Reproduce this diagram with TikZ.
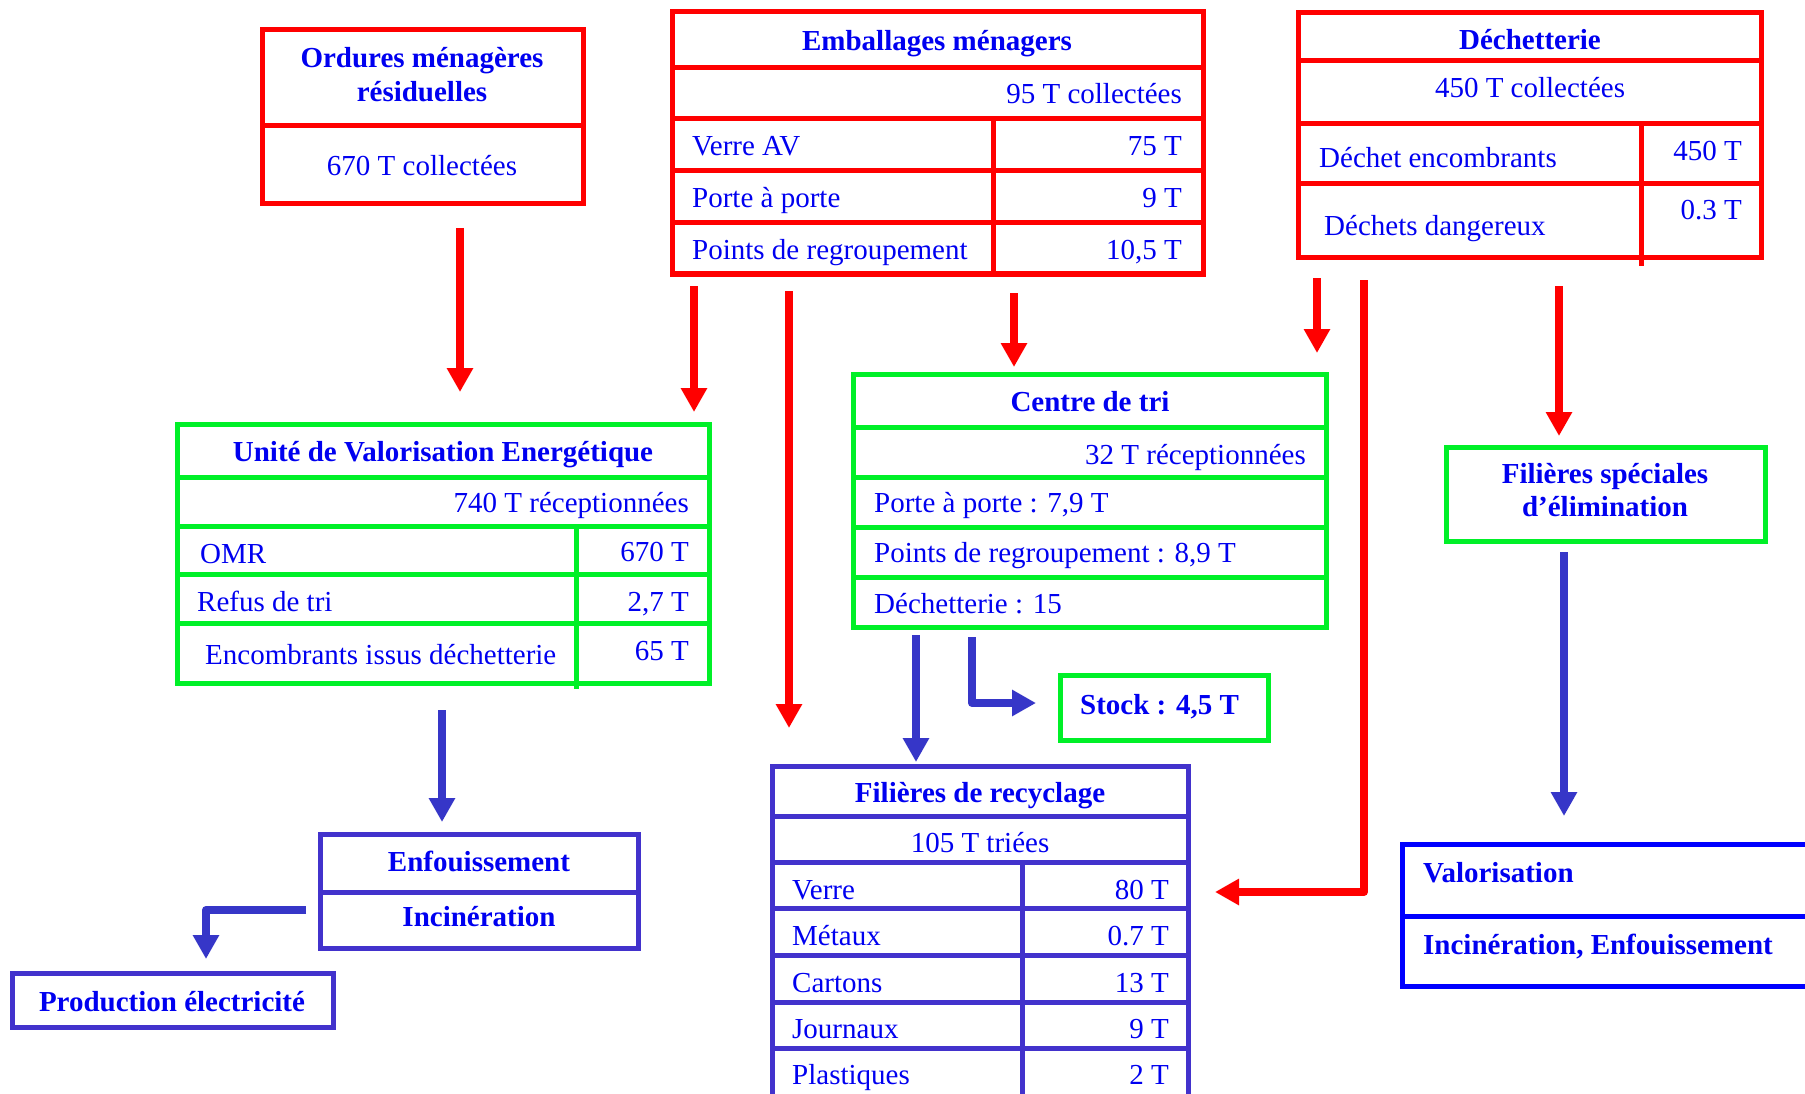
\documentclass[tikz,border=0pt]{standalone}
\usepackage{fontspec}
\setmainfont{Liberation Serif}
\usetikzlibrary{arrows.meta,fit}
\definecolor{cred}{RGB}{255,0,0}
\definecolor{cgreen}{RGB}{0,240,40}
\definecolor{cbox}{RGB}{66,50,204}
\definecolor{carrow}{RGB}{54,54,200}
\definecolor{ctext}{RGB}{0,0,240}
\definecolor{cvalo}{RGB}{0,0,255}
\begin{document}
\begin{tikzpicture}[x=1pt,y=-1pt,
  frame/.style={draw, line width=5pt, inner sep=0pt, rectangle},
  redbox/.style={frame, draw=cred},
  greenbox/.style={frame, draw=cgreen},
  bluebox/.style={frame, draw=cbox},
  valobox/.style={frame, draw=cvalo},
  rule/.style={line width=5pt},
  txt/.style={text=ctext, font=\fontsize{29}{34}\selectfont, inner sep=0pt, anchor=base},
  btxt/.style={txt, font=\fontsize{29}{34}\selectfont\bfseries},
  lt/.style={anchor=base west},
  rt/.style={anchor=base east},
  redarrow/.style={draw=cred, line width=8pt, line join=round, -{Triangle[width=25pt,length=24pt]}},
  bluearrow/.style={draw=carrow, line width=8pt, line join=round, -{Triangle[width=25pt,length=24pt]}}]
\path[use as bounding box, fill=white] (0,0) rectangle (1805,1094);
\clip (0,0) rectangle (1805,1094);

% ---------- Ordures ménagères résiduelles ----------
\node[redbox, fit={(262,30)(583,204)}] (orm) {};
\draw[rule, cred] (262,126) -- (583,126);
\node[btxt] (ormt1) at (422,68) {Ordures ménagères};
\node[btxt] (ormt2) at (422,102) {résiduelles};
\node[txt] (ormt3) at (422,176) {670 T collectées};

% ---------- Emballages ménagers ----------
\node[redbox, fit={(672,12)(1203,274)}] (emb) {};
\draw[rule, cred] (672,68) -- (1203,68) (672,119) -- (1203,119)
  (672,171) -- (1203,171) (672,223) -- (1203,223) (993,119) -- (993,274);
\node[btxt] (embt) at (937,51) {Emballages ménagers};
\node[txt, rt] (embc) at (1182,104) {95 T collectées};
\node[txt, lt] (emb1) at (692,156) {Verre AV};
\node[txt, rt] (emb1v) at (1182,156) {75 T};
\node[txt, lt] (emb2) at (692,208) {Porte à porte};
\node[txt, rt] (emb2v) at (1182,208) {9 T};
\node[txt, lt] (emb3) at (692,259) {Points de regroupement};
\node[txt, rt] (emb3v) at (1182,259) {10,5 T};

% ---------- Déchetterie ----------
\node[redbox, fit={(1298,13)(1761,258)}] (dech) {};
\draw[rule, cred] (1298,61) -- (1761,61) (1298,124) -- (1761,124)
  (1298,184) -- (1761,184) (1641,124) -- (1641,266);
\node[btxt] (decht) at (1530,50) {Déchetterie};
\node[txt] (dechc) at (1530,98) {450 T collectées};
\node[txt, lt] (dech1) at (1319,168) {Déchet encombrants};
\node[txt, rt] (dech1v) at (1742,161) {450 T};
\node[txt, lt] (dech2) at (1324,236) {Déchets dangereux};
\node[txt, rt] (dech2v) at (1742,220) {0.3 T};

% ---------- Unité de Valorisation Energétique ----------
\node[greenbox, fit={(177,424)(709,683)}] (uve) {};
\draw[rule, cgreen] (177,477) -- (709,477) (177,526) -- (709,526)
  (177,574) -- (709,574) (177,623) -- (709,623) (576,526) -- (576,689);
\node[btxt] (uvet) at (443,461) {Unité de Valorisation Energétique};
\node[txt, rt] (uvec) at (689,512) {740 T réceptionnées};
\node[txt, lt] (uve1) at (200,563) {OMR};
\node[txt, rt] (uve1v) at (689,561) {670 T};
\node[txt, lt] (uve2) at (197,611) {Refus de tri};
\node[txt, rt] (uve2v) at (689,611) {2,7 T};
\node[txt, lt] (uve3) at (205,664) {Encombrants issus déchetterie};
\node[txt, rt] (uve3v) at (689,660) {65 T};

% ---------- Centre de tri ----------
\node[greenbox, fit={(853,374)(1326,627)}] (ctri) {};
\draw[rule, cgreen] (853,427) -- (1326,427) (853,477) -- (1326,477)
  (853,527) -- (1326,527) (853,577) -- (1326,577);
\node[btxt] (ctrit) at (1090,411) {Centre de tri};
\node[txt, rt] (ctric) at (1306,464) {32 T réceptionnées};
\node[txt, lt] (ctri1) at (874,512) {Porte à porte : 7,9 T};
\node[txt, lt] (ctri2) at (874,562) {Points de regroupement : 8,9 T};
\node[txt, lt] (ctri3) at (874,613) {Déchetterie : 15};

% ---------- Stock ----------
\node[greenbox, fit={(1060,675)(1268,740)}] (stock) {};
\node[btxt, lt] (stockt) at (1080,714) {Stock : 4,5 T};

% ---------- Filières spéciales d'élimination ----------
\node[greenbox, fit={(1446,447)(1765,541)}] (fse) {};
\node[btxt] (fset1) at (1605,483) {Filières spéciales};
\node[btxt] (fset2) at (1605,516) {d’élimination};

% ---------- Filières de recyclage ----------
\node[bluebox, fit={(772,766)(1188,1110)}] (recy) {};
\draw[rule, cbox] (772,816) -- (1188,816) (772,862) -- (1188,862)
  (772,908) -- (1188,908) (772,955) -- (1188,955) (772,1002) -- (1188,1002)
  (772,1048) -- (1188,1048) (1022,862) -- (1022,1110);
\node[btxt] (recyt) at (980,802) {Filières de recyclage};
\node[txt] (recyc) at (980,852) {105 T triées};
\node[txt, lt] (recy1) at (792,899) {Verre};
\node[txt, rt] (recy1v) at (1169,899) {80 T};
\node[txt, lt] (recy2) at (792,945) {Métaux};
\node[txt, rt] (recy2v) at (1169,945) {0.7 T};
\node[txt, lt] (recy3) at (792,992) {Cartons};
\node[txt, rt] (recy3v) at (1169,992) {13 T};
\node[txt, lt] (recy4) at (792,1038) {Journaux};
\node[txt, rt] (recy4v) at (1169,1038) {9 T};
\node[txt, lt] (recy5) at (792,1084) {Plastiques};
\node[txt, rt] (recy5v) at (1169,1084) {2 T};

% ---------- Enfouissement / Incinération ----------
\node[bluebox, fit={(320,834)(638,948)}] (enf) {};
\draw[rule, cbox] (320,892) -- (638,892);
\node[btxt] (enft1) at (479,871) {Enfouissement};
\node[btxt] (enft2) at (479,926) {Incinération};

% ---------- Production électricité ----------
\node[bluebox, fit={(12,973)(333,1027)}] (prod) {};
\node[btxt] (prodt) at (172,1011) {Production électricité};

% ---------- Valorisation ----------
\node[valobox, fit={(1402,844)(1840,986)}] (valo) {};
\draw[rule, cvalo] (1402,916) -- (1840,916);
\node[btxt, lt] (valot1) at (1423,882) {Valorisation};
\node[btxt, lt] (valot2) at (1423,954) {Incinération, Enfouissement};

% ---------- connector end points ----------
\coordinate (a1s) at (460,228);  \coordinate (a1e) at (460,392);
\coordinate (a2s) at (694,286);  \coordinate (a2e) at (694,412);
\coordinate (a3s) at (789,291);  \coordinate (a3e) at (789,728);
\coordinate (a4s) at (1014,293); \coordinate (a4e) at (1014,367);
\coordinate (a5s) at (1317,278); \coordinate (a5e) at (1317,353);
\coordinate (a6s) at (1364,280); \coordinate (a6m) at (1364,892); \coordinate (a6e) at (1215,892);
\coordinate (a7s) at (1559,286); \coordinate (a7e) at (1559,436);
\coordinate (b1s) at (442,710);  \coordinate (b1e) at (442,822);
\coordinate (b2s) at (306,910);  \coordinate (b2m) at (206,910); \coordinate (b2e) at (206,959);
\coordinate (b3s) at (916,635);  \coordinate (b3e) at (916,762);
\coordinate (b4s) at (972,637);  \coordinate (b4m) at (972,703); \coordinate (b4e) at (1036,703);
\coordinate (b5s) at (1564,552); \coordinate (b5e) at (1564,816);

% ---------- red arrows ----------
\draw[redarrow] (a1s) -- (a1e);
\draw[redarrow] (a2s) -- (a2e);
\draw[redarrow] (a3s) -- (a3e);
\draw[redarrow] (a4s) -- (a4e);
\draw[redarrow] (a5s) -- (a5e);
\draw[redarrow] (a6s) -- (a6m) -- (a6e);
\draw[redarrow] (a7s) -- (a7e);

% ---------- blue arrows ----------
\draw[bluearrow] (b1s) -- (b1e);
\draw[bluearrow] (b2s) -- (b2m) -- (b2e);
\draw[bluearrow] (b3s) -- (b3e);
\draw[bluearrow] (b4s) -- (b4m) -- (b4e);
\draw[bluearrow] (b5s) -- (b5e);
\end{tikzpicture}
\end{document}
